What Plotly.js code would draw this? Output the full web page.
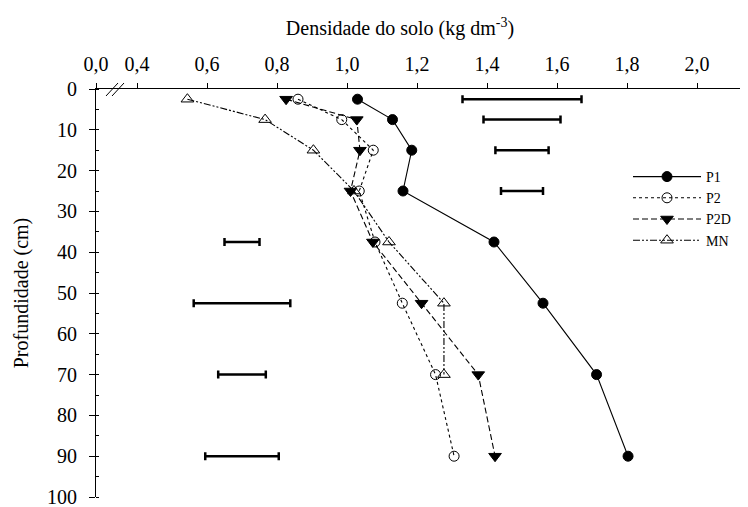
<!DOCTYPE html>
<html>
<head>
<meta charset="utf-8">
<script src="https://cdn.plot.ly/plotly-3.0.1.min.js"></script>
<style>html,body{margin:0;padding:0;background:#fff;}#chart{width:748px;height:507px;}</style>
</head>
<body>
<div id="chart"></div>
<script>
// Depths (cm)
const depth = [2.5, 7.5, 15, 25, 37.5, 52.5, 70, 90];
// Soil bulk density (kg dm-3)
const P1  = [1.03, 1.13, 1.185, 1.16, 1.42, 1.56, 1.713, 1.803];
const P2  = [0.86, 0.985, 1.075, 1.035, 1.08, 1.158, 1.253, 1.306];
const P2D = [0.826, 1.028, 1.037, 1.01, 1.074, 1.213, 1.375, 1.423];
const MN  = [0.544, 0.766, 0.904, 1.02, 1.12, 1.277, 1.277, null];
// LSD bars (centre and half-width)
const lsdCentre = [1.5, 1.5, 1.5, 1.5, 0.7, 0.7, 0.7, 0.7];
const lsdHalf   = [0.17, 0.11, 0.076, 0.06, 0.05, 0.138, 0.068, 0.105];
// x tick values and labels (0,0 is drawn at the axis break)
const xTickVals = [0.4, 0.6, 0.8, 1.0, 1.2, 1.4, 1.6, 1.8, 2.0];
const xTickText = ["0,0", "0,4", "0,6", "0,8", "1,0", "1,2", "1,4", "1,6", "1,8", "2,0"];
const yTickVals = [0, 10, 20, 30, 40, 50, 60, 70, 80, 90, 100];

const breakVal = 0.4 - 41/350;   // axis start (shown as 0,0)
const xMax = breakVal + 644/350;

const FONT = "'Liberation Serif', 'Times New Roman', serif";

const traces = [
  {x: lsdCentre, y: depth, type: 'scatter', mode: 'markers', showlegend: false, hoverinfo: 'skip',
   marker: {size: 1, color: 'rgba(0,0,0,0)'},
   error_x: {type: 'data', array: lsdHalf, visible: true, color: '#000', thickness: 2.5, width: 4}},
  {x: P1, y: depth, name: 'P1', type: 'scatter', mode: 'lines+markers',
   line: {color: '#000', width: 1.1, dash: 'solid'},
   marker: {symbol: 'circle', size: 10, color: '#000', line: {color: '#000', width: 1}}},
  {x: P2, y: depth, name: 'P2', type: 'scatter', mode: 'lines+markers',
   line: {color: '#000', width: 1.1, dash: 'dot'},
   marker: {symbol: 'circle-open', size: 10, color: '#000', line: {color: '#000', width: 1}}},
  {x: P2D, y: depth, name: 'P2D', type: 'scatter', mode: 'lines+markers',
   line: {color: '#000', width: 1.1, dash: '6px,3px'},
   marker: {symbol: 'triangle-down', size: 11, color: '#000', line: {color: '#000', width: 1}}},
  {x: MN, y: depth, name: 'MN', type: 'scatter', mode: 'lines+markers', connectgaps: false,
   line: {color: '#000', width: 1.1, dash: '7px,2px,2px,2px,2px,2px'},
   marker: {symbol: 'triangle-up-open', size: 11, color: '#000', line: {color: '#000', width: 1}}}
];

const layout = {
  width: 748, height: 507,
  margin: {l: 96, r: 8, t: 89, b: 10, pad: 0},
  paper_bgcolor: '#fff', plot_bgcolor: '#fff',
  font: {family: FONT, size: 20, color: '#000'},
  showlegend: true,
  title: {text: 'Densidade do solo (kg dm<sup>-3</sup>)', font: {family: FONT, size: 20, color: '#000'},
          xref: 'container', yref: 'container', x: 400/748, xanchor: 'center', y: 1 - 28/507, yanchor: 'middle'},
  xaxis: {
    side: 'top', range: [breakVal, xMax], showgrid: false, zeroline: false,
    showline: true, linecolor: '#000', linewidth: 1,
    ticks: 'outside', ticklen: 5, tickcolor: '#000', tickwidth: 1,
    tickmode: 'array', tickvals: [breakVal].concat(xTickVals), ticktext: xTickText,
    tickfont: {family: FONT, size: 20, color: '#000'}, ticklabelstandoff: 4
  },
  yaxis: {
    range: [100, 0], showgrid: false, zeroline: false,
    showline: true, linecolor: '#000', linewidth: 1,
    ticks: 'outside', ticklen: 6, tickcolor: '#000', tickwidth: 1,
    tickmode: 'array', tickvals: yTickVals, ticklabeloverflow: 'allow',
    minor: {dtick: 5, ticks: 'inside', ticklen: 3, tickcolor: '#000', tickwidth: 1, showgrid: false},
    tickfont: {family: FONT, size: 20, color: '#000'}, ticklabelstandoff: 8,
    title: {text: 'Profundidade (cm)', font: {family: FONT, size: 20, color: '#000'}, standoff: 13}
  },
  legend: {
    x: (628-96)/644, y: (497-161)/408, xanchor: 'left', yanchor: 'top',
    bgcolor: 'rgba(0,0,0,0)', borderwidth: 0,
    font: {family: FONT, size: 14, color: '#000'},
    itemwidth: 68, tracegroupgap: 0
  },
  shapes: [
    {type: 'line', xref: 'paper', yref: 'paper', x0: (106-96)/644, y0: (497-96)/408, x1: (118-96)/644, y1: (497-83)/408, line: {color: '#000', width: 1}},
    {type: 'line', xref: 'paper', yref: 'paper', x0: (112-96)/644, y0: (497-96)/408, x1: (124-96)/644, y1: (497-83)/408, line: {color: '#000', width: 1}}
  ]
};

Plotly.newPlot('chart', traces, layout, {displayModeBar: false, staticPlot: true});
</script>
</body>
</html>
